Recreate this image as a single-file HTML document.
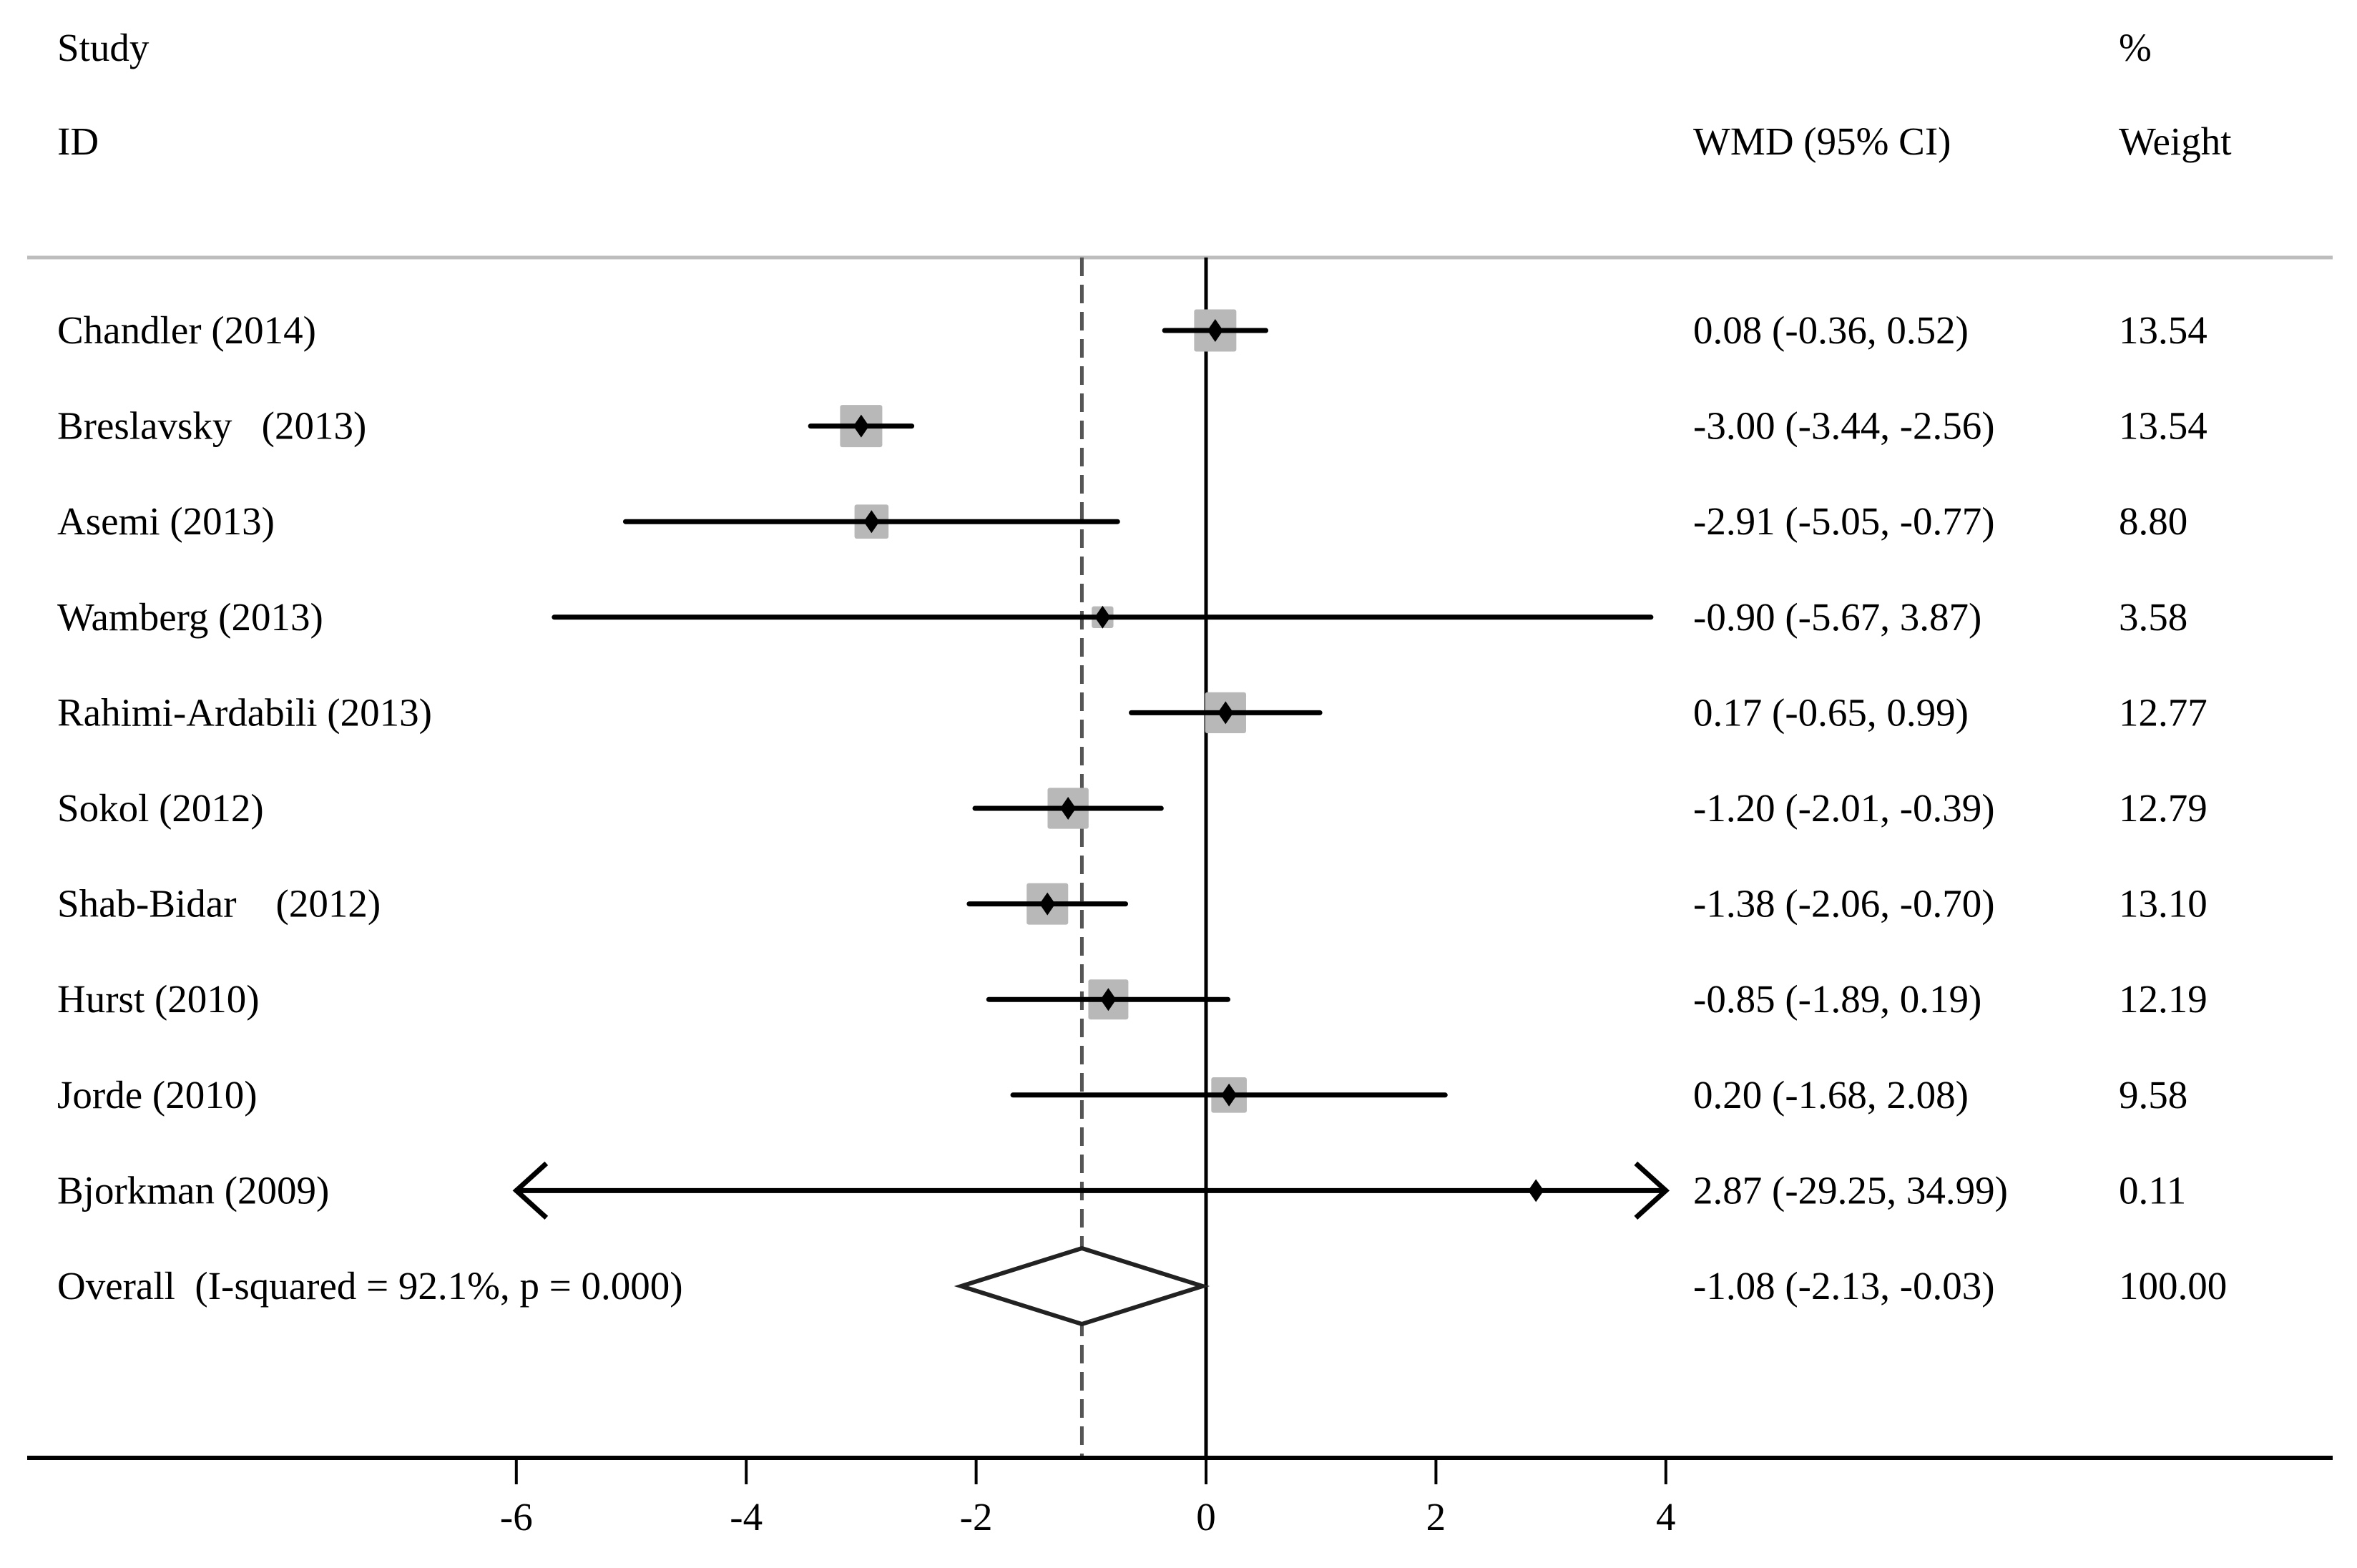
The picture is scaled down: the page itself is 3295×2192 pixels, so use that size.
<!DOCTYPE html>
<html><head><meta charset="utf-8"><style>
html,body{margin:0;padding:0;background:#fff;}
svg{display:block;}
text{font-family:"Liberation Serif",serif;font-size:55px;fill:#000;}
</style></head><body>
<svg id="chart" width="3295" height="2192" viewBox="0 0 3295 2192" xmlns="http://www.w3.org/2000/svg">
<text x="80" y="85">Study</text>
<text x="80" y="216">ID</text>
<text x="2367" y="216">WMD (95% CI)</text>
<text x="2962" y="85">%</text>
<text x="2962" y="216">Weight</text>
<line x1="38" y1="360" x2="3261" y2="360" stroke="#bdbdbd" stroke-width="5"/>
<g id="plot"></g>
</svg>
<script>
const studies=["Chandler (2014)","Breslavsky\u00a0\u00a0\u00a0(2013)","Asemi (2013)","Wamberg (2013)","Rahimi-Ardabili (2013)","Sokol (2012)","Shab-Bidar\u00a0\u00a0\u00a0\u00a0(2012)","Hurst (2010)","Jorde (2010)","Bjorkman (2009)"];
const est=[0.08,-3.00,-2.91,-0.90,0.17,-1.20,-1.38,-0.85,0.20,2.87];
const lo=[-0.36,-3.44,-5.05,-5.67,-0.65,-2.01,-2.06,-1.89,-1.68,-29.25];
const hi=[0.52,-2.56,-0.77,3.87,0.99,-0.39,-0.70,0.19,2.08,34.99];
const weights=[13.54,13.54,8.80,3.58,12.77,12.79,13.10,12.19,9.58,0.11];
const overall=[-1.08,-2.13,-0.03];
const overallLabel="Overall\u00a0\u00a0(I-squared = 92.1%, p = 0.000)";
const overallWeight="100.00";
const ticks=[-6,-4,-2,0,2,4];
const xMin=-6, xMax=4;
const NS="http://www.w3.org/2000/svg";
const g=document.getElementById('plot');
const X=v=>1686+v*160.7;
const Y=i=>462+i*133.6;
function mk(tag,attrs,parent){const e=document.createElementNS(NS,tag);for(const k in attrs)e.setAttribute(k,attrs[k]);(parent||g).appendChild(e);return e;}
function f2(v){return v.toFixed(2);}
const axisY=2038;
let e=mk('line',{x1:X(0),y1:360,x2:X(0),y2:axisY,stroke:'#000','stroke-width':5});


e=mk('line',{x1:X(overall[0]),y1:360,x2:X(overall[0]),y2:axisY,stroke:'#555','stroke-width':5,'stroke-dasharray':'26 12'});


studies.forEach((s,i)=>{
  const y=Y(i);
  let t=mk('text',{x:80,y:y+18});t.textContent=s;
  
  
  t=mk('text',{x:2367,y:y+18});t.textContent=f2(est[i])+" ("+f2(lo[i])+", "+f2(hi[i])+")";
  
  
  t=mk('text',{x:2962,y:y+18});t.textContent=f2(weights[i]);
  
  
  const side=59*Math.sqrt(weights[i]/13.54);
  const r=mk('rect',{x:X(est[i])-side/2,y:y-side/2,width:side,height:side,fill:'#b8b8b8',rx:3});
  
  
  const l=Math.max(lo[i],xMin), h=Math.min(hi[i],xMax);
  const ln=mk('line',{x1:X(l),y1:y,x2:X(h),y2:y,stroke:'#000','stroke-width':7,'stroke-linecap':'round'});
  
  
  if(lo[i]<xMin){const a=mk('polyline',{points:`${X(xMin)+42},${y-38} ${X(xMin)},${y} ${X(xMin)+42},${y+38}`,fill:'none',stroke:'#000','stroke-width':7});
    
    }
  if(hi[i]>xMax){const a=mk('polyline',{points:`${X(xMax)-42},${y-38} ${X(xMax)},${y} ${X(xMax)-42},${y+38}`,fill:'none',stroke:'#000','stroke-width':7});
    
    }
  const cx=X(est[i]);
  const d=mk('polygon',{points:`${cx},${y-16} ${cx+11},${y} ${cx},${y+16} ${cx-11},${y}`,fill:'#000'});
  
  
});
const oy=Y(10);
let t=mk('text',{x:80,y:oy+18});t.textContent=overallLabel;


t=mk('text',{x:2367,y:oy+18});t.textContent=f2(overall[0])+" ("+f2(overall[1])+", "+f2(overall[2])+")";


t=mk('text',{x:2962,y:oy+18});t.textContent=overallWeight;


const dm=mk('polygon',{points:`${X(overall[1])},${oy} ${X(overall[0])},${oy-53} ${X(overall[2])},${oy} ${X(overall[0])},${oy+53}`,fill:'#fff',stroke:'#222','stroke-width':6});


const ax=mk('line',{x1:38,y1:axisY,x2:3261,y2:axisY,stroke:'#000','stroke-width':6});


ticks.forEach(v=>{
  const tk=mk('line',{x1:X(v),y1:axisY,x2:X(v),y2:2075,stroke:'#000','stroke-width':4});
  
  
  const tl=mk('text',{x:X(v),y:2139,'text-anchor':'middle'});tl.textContent=String(v);
  
  
});
</script>
</body></html>
